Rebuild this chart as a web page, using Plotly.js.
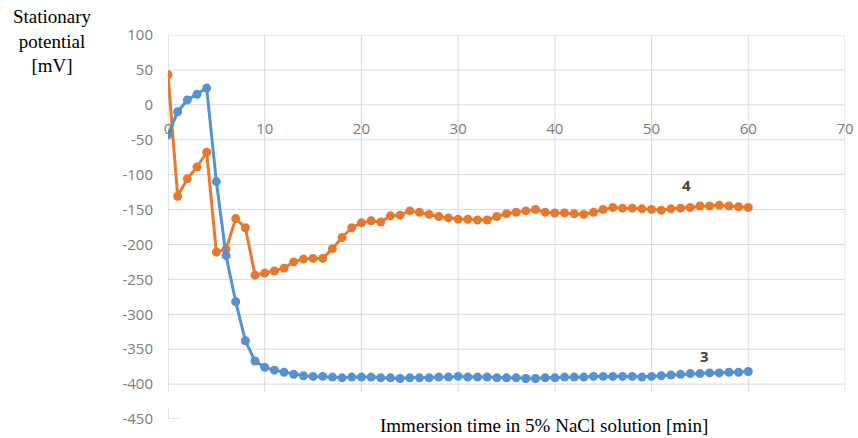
<!DOCTYPE html>
<html>
<head>
<meta charset="utf-8">
<script src="https://cdn.plot.ly/plotly-3.0.1.min.js"></script>
<style>
html,body{margin:0;padding:0;background:#fff;}
#chart{width:858px;height:438px;}
</style>
</head>
<body>
<div id="chart"></div>
<script>
// Immersion time [min]
var timeMin = [0,1,2,3,4,5,6,7,8,9,10,11,12,13,14,15,16,17,18,19,20,
  21,22,23,24,25,26,27,28,29,30,31,32,33,34,35,36,37,38,39,40,
  41,42,43,44,45,46,47,48,49,50,51,52,53,54,55,56,57,58,59,60];

// Series 3 (blue) stationary potential [mV]
var series3 = [-43,-10,7,15,24,-110,-216,-282,-338,-367,-376,
  -380,-383,-386,-388,-389,-389,-390,-391,-390,-390,
  -390,-391,-391,-392,-391,-391,-391,-390,-390,-389,
  -390,-390,-390,-391,-391,-391,-392,-392,-391,-391,
  -390,-390,-390,-389,-389,-389,-389,-389,-390,-389,
  -388,-387,-386,-385,-385,-384,-384,-383,-383,-382];

// Series 4 (orange) stationary potential [mV]
var series4 = [43,-131,-106,-89,-68,-211,-207,-163,-176,-244,-241,
  -238,-234,-225,-221,-220,-220,-206,-190,-176,-169,
  -166,-168,-159,-158,-152,-154,-157,-160,-162,-164,
  -164,-165,-165,-160,-156,-154,-152,-150,-154,-155,
  -155,-156,-157,-154,-150,-147,-148,-148,-149,-150,
  -151,-149,-148,-147,-145,-145,-144,-145,-146,-147];

var xTicks = [0,10,20,30,40,50,60,70];
var yTicks = [100,50,0,-50,-100,-150,-200,-250,-300,-350,-400,-450];
var yGrid = [100,50,0,-50,-100,-150,-200,-250,-300,-350,-400];
var seriesNames = ['3','4'];

var gridColor = '#d9d9d9';
var shapes = [];
yGrid.forEach(function(v){
  shapes.push({type:'line', xref:'paper', yref:'y', x0:0, x1:1, y0:v, y1:v,
    line:{color:gridColor, width:1}, layer:'below'});
});
xTicks.forEach(function(v){
  shapes.push({type:'line', xref:'x', yref:'y', x0:v, x1:v, y0:-412, y1:100,
    line:{color: v===0 ? '#c8c8c8' : gridColor, width:1}, layer:'below'});
});
// small corner mark at the bottom-left
shapes.push({type:'path', xref:'x', yref:'y',
  path:'M 0 -433 L 0 -450 L 1.2 -450', line:{color:'#c8c8c8', width:1}, layer:'below'});

var serif = 'Liberation Serif, Times New Roman, serif';
var traces = [
  {x: timeMin, y: series4, name: seriesNames[1], type:'scatter', mode:'lines+markers',
   line:{color:'#E57A2E', width:3}, marker:{color:'#E57A2E', size:9}},
  {x: timeMin, y: series3, name: seriesNames[0], type:'scatter', mode:'lines+markers',
   line:{color:'#5592CF', width:3}, marker:{color:'#5592CF', size:9}}
];

var layout = {
  width:858, height:438,
  margin:{l:168, r:13, t:35, b:19},
  paper_bgcolor:'#ffffff', plot_bgcolor:'#ffffff',
  showlegend:false,
  xaxis:{range:[0,70], tickvals:xTicks, ticktext:xTicks.map(String),
    showgrid:false, zeroline:false, showline:false,
    anchor:'free', position:450/550, ticks:'', ticklabelstandoff:13,
    tickfont:{family:'Open Sans', size:15, color:'#7a7a7a'}},
  yaxis:{range:[-450,100], tickvals:yTicks, ticktext:yTicks.map(String),
    showgrid:false, zeroline:false, showline:false, ticks:'',
    ticklabelstandoff:14,
    tickfont:{family:'Open Sans', size:15, color:'#7a7a7a'}},
  shapes: shapes,
  annotations:[
    {xref:'paper', yref:'paper', x:-0.171, y:1.08, xanchor:'center', yanchor:'top',
     text:'Stationary<br>potential<br>[mV]', showarrow:false, align:'center',
     font:{family:serif, size:19, color:'#000'}},
    {xref:'paper', yref:'paper', x:0.555, y:-0.016, xanchor:'center', yanchor:'middle',
     text:'Immersion time in 5% NaCl solution [min]', showarrow:false,
     font:{family:serif, size:19, color:'#000'}},
    {xref:'x', yref:'y', x:53.6, y:-115, text:'<b>4</b>', showarrow:false,
     font:{family:'Open Sans', size:15, color:'#404040'}},
    {xref:'x', yref:'y', x:55.5, y:-360, text:'<b>3</b>', showarrow:false,
     font:{family:'Open Sans', size:15, color:'#404040'}}
  ]
};

Plotly.newPlot('chart', traces, layout, {displayModeBar:false, staticPlot:true});
</script>
</body>
</html>
